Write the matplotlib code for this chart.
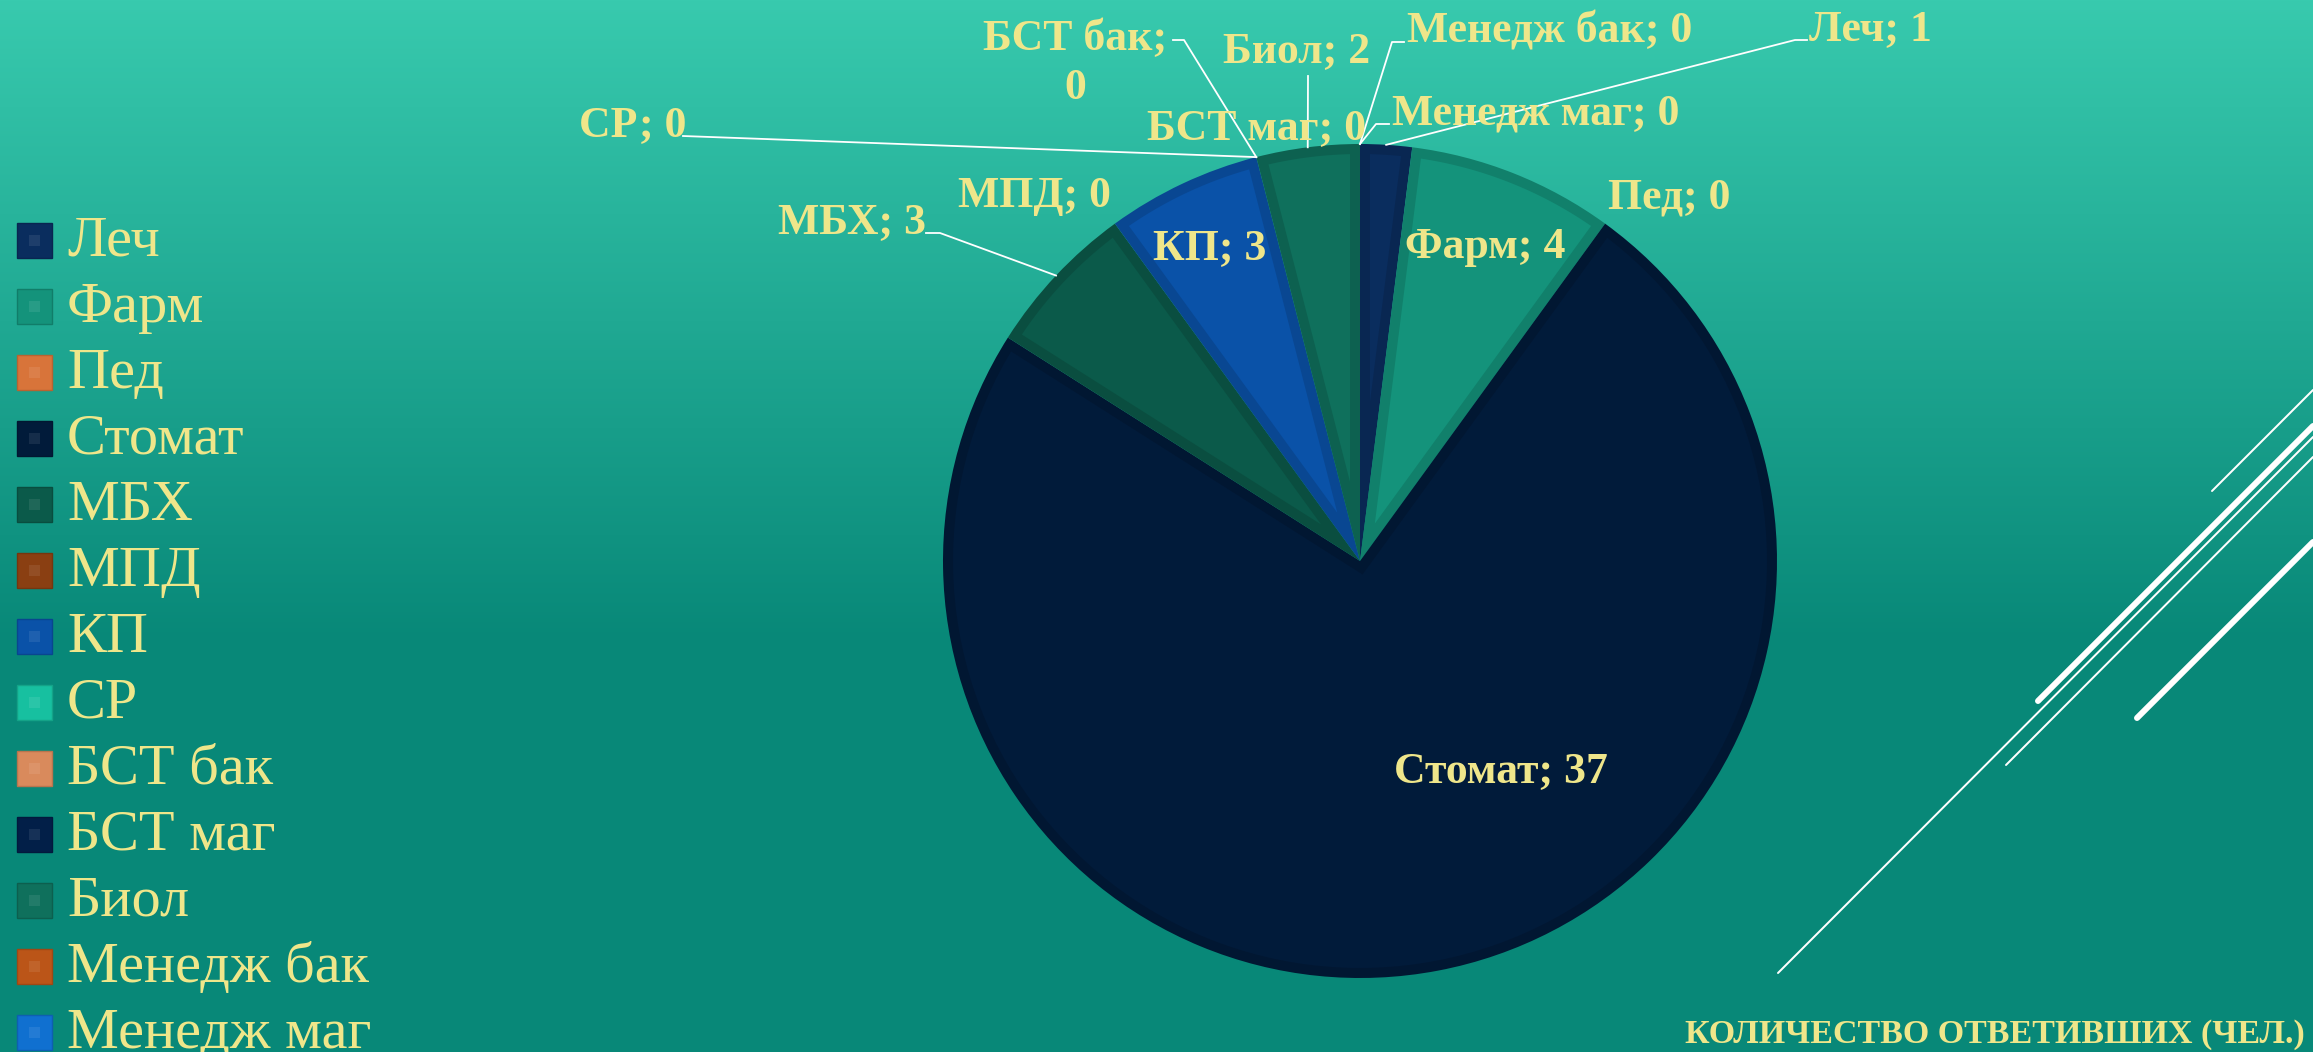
import numpy as np
import matplotlib
matplotlib.use("Agg")
import matplotlib.pyplot as plt
from matplotlib.patches import Rectangle, Polygon
from matplotlib.colors import to_rgb

# ── Data ─────────────────────────────────────────────────────────────────────
CATEGORIES = ["Леч", "Фарм", "Пед", "Стомат", "МБХ", "МПД", "КП", "СР",
              "БСТ бак", "БСТ маг", "Биол", "Менедж бак", "Менедж маг"]
COUNTS = [1, 4, 0, 37, 3, 0, 3, 0, 0, 0, 2, 0, 0]
COLORS = ["#0a2d5e", "#14937b", "#d8743a", "#011b3a", "#0b5a4a", "#8a3f12",
          "#0a52a8", "#17c0a0", "#d98a5c", "#021f48", "#0f705c", "#bb5518",
          "#1070d0"]
TITLE = "КОЛИЧЕСТВО ОТВЕТИВШИХ (ЧЕЛ.)"

# ── Layout (image pixels, y measured from the top) ───────────────────────────
W, H = 2313, 1052
CX, CY, R = 1360, 561, 417
BEVEL = 10
TEXT = "#efe68a"
SERIF = "Liberation Serif"

# label: (x, baseline y of last line, ha)
LABEL_POS = {
    "Леч": (1809, 40, "left"),
    "Фарм": (1405, 258, "left"),
    "Пед": (1608, 208, "left"),
    "Стомат": (1394, 782, "left"),
    "МБХ": (778, 233, "left"),
    "МПД": (958, 207, "left"),
    "КП": (1153, 259, "left"),
    "СР": (579, 136, "left"),
    "БСТ бак": (1075, 99, "center"),
    "БСТ маг": (1147, 139, "left"),
    "Биол": (1223, 62, "left"),
    "Менедж бак": (1407, 43, "left"),
    "Менедж маг": (1392, 124, "left"),
}
WRAPPED = {"БСТ бак"}

# leader line points before the anchor on the pie rim
LEADERS = {
    "Леч": [(1807, 40), (1795, 40)],
    "Менедж бак": [(1404, 42), (1392, 42)],
    "Менедж маг": [(1389, 124), (1376, 124)],
    "Биол": [(1308, 76)],
    "БСТ бак": [(1173, 40), (1184, 40)],
    "СР": [(683, 136)],
    "МБХ": [(926, 233), (940, 233)],
}

# decorative strokes on the right: (x0, y0, x1, y1, width px)
DECOR = [
    (2212, 491, 2313, 390, 2),
    (2038, 701, 2313, 426, 6),
    (1778, 973, 2313, 437, 2),
    (2006, 765, 2313, 457, 2),
    (2137, 718, 2313, 542, 6),
]


def fy(y):
    return H - y


def shade(c, f):
    return tuple(min(1, v * f) for v in to_rgb(c))


def tint(c, f):
    return tuple(v + (1 - v) * f for v in to_rgb(c))


def inset_wedge(center, r, th1, th2, b, n=120):
    """Sector th1..th2 (deg, ccw) shrunk inward by b on every side."""
    c = np.asarray(center, float)
    t1, t2 = np.radians(th1), np.radians(th2)
    half = (t2 - t1) / 2
    tm = t1 + half
    apex = b / np.sin(half) * np.array([np.cos(tm), np.sin(tm)])
    ro = r - b
    pts = [apex]
    ends = []
    for t in (t1, t2):
        u = np.array([np.cos(t), np.sin(t)])
        au = apex @ u
        s = -au + np.sqrt(au ** 2 - apex @ apex + ro ** 2)
        ends.append(apex + s * u)
    a1 = np.arctan2(ends[0][1], ends[0][0])
    a2 = np.arctan2(ends[1][1], ends[1][0])
    while a2 < a1:
        a2 += 2 * np.pi
    arc = np.linspace(a1, a2, n)
    pts += [ro * np.array([np.cos(a), np.sin(a)]) for a in arc]
    return np.array(pts) + c


fig = plt.figure(figsize=(W / 100, H / 100), dpi=100)
ax = fig.add_axes([0, 0, 1, 1])

# background gradient
top = np.array(to_rgb("#38caae"))
bot = np.array(to_rgb("#088878"))
t = np.clip(np.linspace(0, 1, H) / 0.61, 0, 1)[:, None]
grad = (top * (1 - t) + bot * t)[:, None, :]
ax.imshow(grad, extent=(0, W, 0, H), aspect="auto", zorder=0)

# pie: darker base (bevel) + lighter inner face per wedge
dark = [shade(c, 0.87) for c in COLORS]
wedges, _ = ax.pie(COUNTS, colors=dark, startangle=90, counterclock=False,
                   center=(CX, fy(CY)), radius=R, frame=True,
                   wedgeprops=dict(linewidth=0))
for w, c, v in zip(wedges, COLORS, COUNTS):
    w.set_zorder(2)
    if v == 0:
        w.set_visible(False)
        continue
    ax.add_patch(Polygon(inset_wedge(w.center, w.r, w.theta1, w.theta2, BEVEL),
                         closed=True, facecolor=c, lw=0, zorder=2.5))

# data labels and leader lines
total = sum(COUNTS)
start = 0
for name, v in zip(CATEGORIES, COUNTS):
    mid = np.radians((start + v / 2) / total * 360)
    start += v
    anchor = (CX + R * np.sin(mid), CY - R * np.cos(mid))
    x, y, ha = LABEL_POS[name]
    label = f"{name};\n{v}" if name in WRAPPED else f"{name}; {v}"
    ax.text(x, fy(y), label, ha=ha, va="baseline", color=TEXT, fontsize=31.5,
            fontweight="bold", family=SERIF, linespacing=1.3,
            multialignment="center", zorder=5)
    if name in LEADERS:
        pts = LEADERS[name] + [anchor]
        ax.plot([p[0] for p in pts], [fy(p[1]) for p in pts], color="white",
                lw=1.3, zorder=4)

# legend
for i, (name, c) in enumerate(zip(CATEGORIES, COLORS)):
    yc = 240 + 66 * i
    ax.add_patch(Rectangle((17, fy(yc) - 17.5), 35, 35, facecolor=c,
                           edgecolor=shade(c, 0.85), lw=1, zorder=3))
    ax.add_patch(Rectangle((29, fy(yc) - 5.5), 11, 11, facecolor=tint(c, 0.08),
                           lw=0, zorder=3))
    ax.text(67, fy(yc + 16), name, ha="left", va="baseline", color=TEXT,
            fontsize=42, family=SERIF, zorder=5)

# decorative lines
for x0, y0, x1, y1, lw in DECOR:
    ax.plot([x0, x1], [fy(y0), fy(y1)], color="white", lw=lw * 0.72,
            solid_capstyle="round", zorder=1)

ax.text(2305, fy(1043), TITLE, ha="right", va="baseline", color=TEXT,
        fontsize=24.5, fontweight="bold", family=SERIF, zorder=5)

ax.set_xlim(0, W)
ax.set_ylim(0, H)
ax.set_aspect("auto")
ax.axis("off")

fig.savefig("out.png", dpi=100)
